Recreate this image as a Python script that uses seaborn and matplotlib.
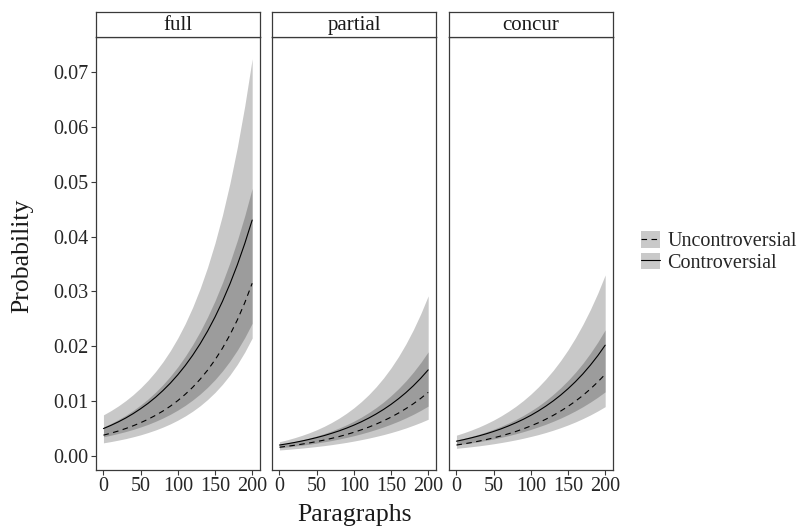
import numpy as np
import pandas as pd
import matplotlib
matplotlib.use("Agg")
import matplotlib.pyplot as plt
import seaborn as sns
from matplotlib.patches import Patch
from matplotlib.lines import Line2D

# Predicted probabilities with confidence bands, by number of paragraphs
paragraphs = list(range(0, 201, 10))
panels = ["full", "partial", "concur"]
groups = ["Uncontroversial", "Controversial"]

full_contro_fit = [0.00500, 0.00558, 0.00622, 0.00693, 0.00773, 0.00862, 0.00960, 0.01070, 0.01193,
                   0.01329, 0.01481, 0.01649, 0.01837, 0.02045, 0.02276, 0.02533, 0.02818, 0.03134,
                   0.03484, 0.03872, 0.04301]
full_contro_lo = [0.00350, 0.00379, 0.00411, 0.00446, 0.00485, 0.00529, 0.00577, 0.00632, 0.00693,
                  0.00761, 0.00838, 0.00924, 0.01021, 0.01130, 0.01253, 0.01392, 0.01550, 0.01728,
                  0.01930, 0.02159, 0.02420]
full_contro_hi = [0.00750, 0.00827, 0.00913, 0.01010, 0.01119, 0.01242, 0.01381, 0.01539, 0.01718,
                  0.01921, 0.02152, 0.02414, 0.02713, 0.03053, 0.03441, 0.03884, 0.04390, 0.04968,
                  0.05628, 0.06382, 0.07242]
full_uncon_fit = [0.00380, 0.00416, 0.00456, 0.00501, 0.00551, 0.00607, 0.00670, 0.00741, 0.00820,
                  0.00909, 0.01010, 0.01125, 0.01253, 0.01399, 0.01564, 0.01752, 0.01964, 0.02206,
                  0.02480, 0.02793, 0.03149]
full_uncon_lo = [0.00240, 0.00263, 0.00289, 0.00317, 0.00350, 0.00386, 0.00428, 0.00474, 0.00527,
                 0.00586, 0.00654, 0.00730, 0.00817, 0.00916, 0.01030, 0.01159, 0.01307, 0.01476,
                 0.01670, 0.01894, 0.02151]
full_uncon_hi = [0.00530, 0.00593, 0.00664, 0.00743, 0.00831, 0.00930, 0.01040, 0.01163, 0.01301,
                 0.01455, 0.01626, 0.01818, 0.02031, 0.02269, 0.02535, 0.02830, 0.03159, 0.03524,
                 0.03930, 0.04380, 0.04880]

partial_contro_fit = [0.00200, 0.00222, 0.00246, 0.00273, 0.00303, 0.00336, 0.00372, 0.00413, 0.00457,
                      0.00507, 0.00562, 0.00623, 0.00691, 0.00766, 0.00849, 0.00941, 0.01043, 0.01155,
                      0.01280, 0.01418, 0.01570]
partial_contro_lo = [0.00150, 0.00164, 0.00180, 0.00197, 0.00215, 0.00236, 0.00258, 0.00282, 0.00309,
                     0.00338, 0.00370, 0.00405, 0.00443, 0.00485, 0.00531, 0.00581, 0.00635, 0.00695,
                     0.00760, 0.00832, 0.00910]
partial_contro_hi = [0.00260, 0.00294, 0.00332, 0.00375, 0.00423, 0.00478, 0.00540, 0.00610, 0.00689,
                     0.00778, 0.00878, 0.00991, 0.01118, 0.01262, 0.01424, 0.01606, 0.01811, 0.02042,
                     0.02301, 0.02593, 0.02920]
partial_uncon_fit = [0.00160, 0.00177, 0.00195, 0.00216, 0.00238, 0.00263, 0.00290, 0.00321, 0.00354,
                     0.00391, 0.00432, 0.00477, 0.00526, 0.00581, 0.00642, 0.00708, 0.00782, 0.00863,
                     0.00952, 0.01051, 0.01160]
partial_uncon_lo = [0.00110, 0.00120, 0.00132, 0.00144, 0.00158, 0.00173, 0.00189, 0.00207, 0.00227,
                    0.00248, 0.00272, 0.00298, 0.00326, 0.00357, 0.00390, 0.00427, 0.00467, 0.00511,
                    0.00560, 0.00612, 0.00670]
partial_uncon_hi = [0.00210, 0.00235, 0.00262, 0.00293, 0.00327, 0.00365, 0.00408, 0.00456, 0.00509,
                    0.00568, 0.00634, 0.00708, 0.00791, 0.00883, 0.00985, 0.01100, 0.01227, 0.01369,
                    0.01528, 0.01704, 0.01900]

concur_contro_fit = [0.00270, 0.00299, 0.00331, 0.00366, 0.00405, 0.00448, 0.00495, 0.00548, 0.00606,
                     0.00670, 0.00741, 0.00820, 0.00907, 0.01003, 0.01109, 0.01226, 0.01355, 0.01497,
                     0.01655, 0.01828, 0.02020]
concur_contro_lo = [0.00200, 0.00219, 0.00239, 0.00261, 0.00285, 0.00311, 0.00340, 0.00372, 0.00406,
                    0.00444, 0.00485, 0.00530, 0.00578, 0.00632, 0.00690, 0.00754, 0.00823, 0.00899,
                    0.00982, 0.01072, 0.01170]
concur_contro_hi = [0.00380, 0.00424, 0.00473, 0.00527, 0.00588, 0.00655, 0.00731, 0.00815, 0.00908,
                    0.01012, 0.01128, 0.01257, 0.01401, 0.01560, 0.01738, 0.01935, 0.02155, 0.02398,
                    0.02668, 0.02968, 0.03301]
concur_uncon_fit = [0.00200, 0.00221, 0.00245, 0.00271, 0.00299, 0.00331, 0.00366, 0.00405, 0.00448,
                    0.00495, 0.00548, 0.00605, 0.00669, 0.00740, 0.00818, 0.00904, 0.00999, 0.01104,
                    0.01221, 0.01349, 0.01490]
concur_uncon_lo = [0.00140, 0.00154, 0.00169, 0.00185, 0.00203, 0.00223, 0.00245, 0.00269, 0.00295,
                   0.00324, 0.00356, 0.00390, 0.00428, 0.00470, 0.00516, 0.00566, 0.00621, 0.00682,
                   0.00748, 0.00821, 0.00900]
concur_uncon_hi = [0.00290, 0.00322, 0.00357, 0.00396, 0.00440, 0.00488, 0.00542, 0.00601, 0.00667,
                   0.00740, 0.00821, 0.00910, 0.01010, 0.01121, 0.01243, 0.01377, 0.01526, 0.01690,
                   0.01874, 0.02076, 0.02300]

series = {
    ("full", "Controversial"): (full_contro_fit, full_contro_lo, full_contro_hi),
    ("full", "Uncontroversial"): (full_uncon_fit, full_uncon_lo, full_uncon_hi),
    ("partial", "Controversial"): (partial_contro_fit, partial_contro_lo, partial_contro_hi),
    ("partial", "Uncontroversial"): (partial_uncon_fit, partial_uncon_lo, partial_uncon_hi),
    ("concur", "Controversial"): (concur_contro_fit, concur_contro_lo, concur_contro_hi),
    ("concur", "Uncontroversial"): (concur_uncon_fit, concur_uncon_lo, concur_uncon_hi),
}

rows = []
for (panel, group), (fit, lo, hi) in series.items():
    for x, f, l, h in zip(paragraphs, fit, lo, hi):
        rows.append({"panel": panel, "group": group, "paragraphs": x,
                     "prob": f, "lower": l, "upper": h})
df = pd.DataFrame(rows)

sns.set_theme(style="white")
plt.rcParams["font.family"] = ["Liberation Serif", "DejaVu Serif"]

W, H = 797, 530
fig = plt.figure(figsize=(W / 100, H / 100), dpi=100)

frame_col = "#3a3a3a"
panel_left = [96, 272, 449]
panel_w = 164
panel_top, panel_bot = 37, 470
strip_top = 12

dash_map = {"Controversial": "", "Uncontroversial": (5, 4)}

for i, panel in enumerate(panels):
    x0 = panel_left[i]
    ax = fig.add_axes([x0 / W, 1 - panel_bot / H, panel_w / W, (panel_bot - panel_top) / H])
    sub = df[df["panel"] == panel]
    for group in groups:
        g = sub[sub["group"] == group]
        ax.fill_between(g["paragraphs"], g["lower"], g["upper"],
                        color="black", alpha=0.215, linewidth=0)
    sns.lineplot(data=sub, x="paragraphs", y="prob", style="group",
                 dashes=dash_map, color="black", linewidth=0.8,
                 legend=False, ax=ax)
    ax.set_xlim(-10, 210.5)
    ax.set_ylim(-0.00255, 0.07638)
    ax.set_xticks([0, 50, 100, 150, 200])
    ax.set_xticklabels(["0", "50", "100", "150", "200"])
    ax.set_xlabel("")
    ax.set_ylabel("")
    for sp in ax.spines.values():
        sp.set_color(frame_col)
        sp.set_linewidth(0.9)
    ax.tick_params(axis="x", direction="out", length=3.5, width=0.8,
                   color=frame_col, labelsize=14.5, pad=1.5, bottom=True)
    if i == 0:
        ax.set_yticks(np.arange(0, 0.0701, 0.01))
        ax.set_yticklabels([f"{v:.2f}" for v in np.arange(0, 0.0701, 0.01)])
        ax.tick_params(axis="y", direction="out", length=3.5, width=0.8,
                       color=frame_col, labelsize=14.5, pad=2, left=True)
    else:
        ax.set_yticks([])
    ax.grid(False)

    # facet strip
    sax = fig.add_axes([x0 / W, 1 - panel_top / H, panel_w / W, (panel_top - strip_top) / H])
    sax.set_xticks([])
    sax.set_yticks([])
    sax.set_facecolor("white")
    for sp in sax.spines.values():
        sp.set_color(frame_col)
        sp.set_linewidth(0.9)
    sax.text(0.5, 0.47, panel, ha="center", va="center", fontsize=15,
             color="#1a1a1a", transform=sax.transAxes)

fig.text(22 / W, 1 - 256 / H, "Probability", rotation=90, ha="center",
         va="center", fontsize=18.5, color="#1a1a1a")
fig.text(355 / W, 1 - 515 / H, "Paragraphs", ha="center", va="center",
         fontsize=18.5, color="#1a1a1a")

handles = [
    (Patch(facecolor="#c9c9c9", edgecolor="none"),
     Line2D([], [], color="black", lw=0.8, ls=(0, (5, 4)))),
    (Patch(facecolor="#c9c9c9", edgecolor="none"),
     Line2D([], [], color="black", lw=0.8)),
]
fig.legend(handles, ["Uncontroversial", "Controversial"], loc="center left",
           bbox_to_anchor=(641 / W, 1 - 252 / H), frameon=False,
           fontsize=14.5, handlelength=0.95, handleheight=0.85,
           handletextpad=0.35, labelspacing=0.05, borderpad=0,
           borderaxespad=0)

fig.savefig("out.png", dpi=100, facecolor="white")
